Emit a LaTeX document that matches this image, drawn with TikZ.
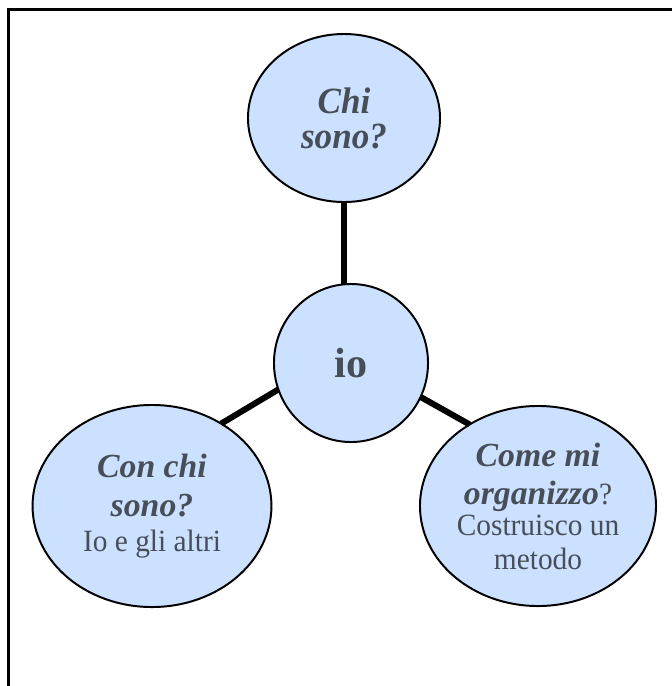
\documentclass[tikz,border=0pt]{standalone}
\usepackage{fontspec}
\setmainfont{Liberation Serif}
\newfontfamily\stretto{Liberation Serif}[FakeStretch=0.95]
\usetikzlibrary{shapes.geometric}

\definecolor{bollablu}{RGB}{204,224,255}
\definecolor{testogrigio}{RGB}{70,78,88}
\newcommand{\domanda}[1]{{\rmfamily\fontsize{24}{22}\selectfont\bfseries\itshape #1}}
\tikzset{bolla/.style={ellipse,draw,line width=1.4pt,fill=bollablu,text=testogrigio,
		inner sep=0pt,outer sep=0pt,align=center,font=\stretto\fontsize{22}{22}\selectfont},
	legame/.style={line width=4.3pt}}

\begin{document}
\begin{tikzpicture}[x=0.025cm,y=-0.025cm]
	\useasboundingbox (0,0) rectangle (672,686);
	\draw[line width=2.5pt] (8.5,686) -- (8.5,9.5) -- (672,9.5);

	\node[bolla,minimum width=4.8cm,minimum height=4.2cm,font=\stretto\fontsize{26.3}{22}\selectfont\bfseries\itshape] (chi) at (344,118) {Chi\\[2.9pt]sono?};
	\node[bolla,minimum width=3.85cm,minimum height=3.95cm,font=\bfseries\fontsize{30}{30}\selectfont] (io) at (351,363) {io};
	\node[bolla,minimum width=5.97cm,minimum height=5.05cm] (con) at (152,506) {\domanda{Con chi}\\[5.7pt]\domanda{sono?}\\[2.9pt]Io e gli altri};
	\node[bolla,minimum width=5.9cm,minimum height=5cm] (come) at (538,506) {\domanda{Come mi}\\[5pt]\domanda{organizzo}?\\Costruisco un\\[2.2pt]metodo};

	\draw[legame] (chi.south) -- (io.north -| chi.south);
	\draw[legame] (io.200) -- (con.50);
	\draw[legame] (io.334) -- (come.130);
\end{tikzpicture}
\end{document}
